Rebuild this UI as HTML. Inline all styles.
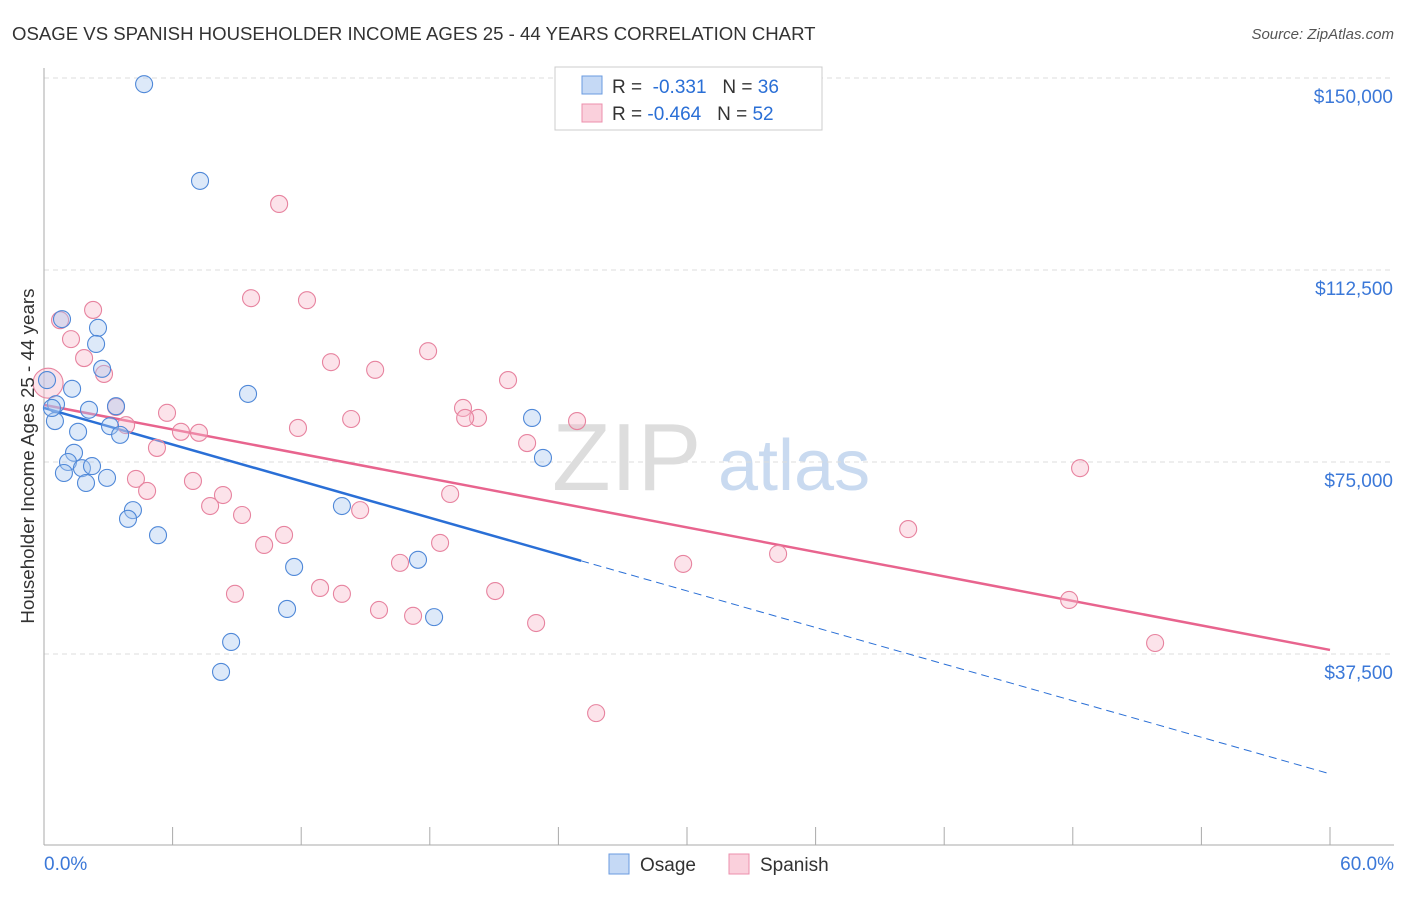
<!DOCTYPE html>
<html><head><meta charset="utf-8"><style>
body{margin:0;background:#fff;font-family:"Liberation Sans",sans-serif;}
svg text{font-family:"Liberation Sans",sans-serif;}
</style></head><body>
<svg id="chart" width="1406" height="892" xmlns="http://www.w3.org/2000/svg">
<text x="12" y="40" font-size="18.6" fill="#333">OSAGE VS SPANISH HOUSEHOLDER INCOME AGES 25 - 44 YEARS CORRELATION CHART</text>
<text x="1394" y="39" font-size="15" fill="#555" text-anchor="end" font-style="italic">Source: ZipAtlas.com</text>
<g>
<text x="552" y="490" font-size="96" fill="#ddd" font-family="Liberation Serif">ZIP</text>
<text x="718" y="490" font-size="72" fill="#c9daf0">atlas</text>
</g>
<g id="grid"></g><g id="axes"></g><g id="lines"></g><g id="pts"></g>
<text transform="translate(34,456) rotate(-90)" font-size="18.8" fill="#333" text-anchor="middle">Householder Income Ages 25 - 44 years</text>
<g>
<rect x="555" y="67" width="267" height="63" fill="#fff" stroke="#ccc"/>
<rect x="582" y="76" width="20" height="18" fill="#c5d9f5" stroke="#6a9be0"/>
<rect x="582" y="104" width="20" height="18" fill="#fad0dc" stroke="#ec8fac"/>
<text x="612" y="93" font-size="19" fill="#333">R = <tspan fill="#2a6fd6">&#160;-0.331</tspan>&#160;&#160;&#160;N = <tspan fill="#2a6fd6">36</tspan></text>
<text x="612" y="120" font-size="19" fill="#333">R = <tspan fill="#2a6fd6">-0.464</tspan>&#160;&#160;&#160;N = <tspan fill="#2a6fd6">52</tspan></text>
</g>
<g>
<rect x="609" y="854" width="20" height="20" fill="#c5d9f5" stroke="#6a9be0"/>
<text x="640" y="871" font-size="19" fill="#333">Osage</text>
<rect x="729" y="854" width="20" height="20" fill="#fad0dc" stroke="#ec8fac"/>
<text x="760" y="871" font-size="19" fill="#333">Spanish</text>
</g>
</svg>
<script>
const yTicks=[37500,75000,112500,150000];
const yTickLabels=["$37,500","$75,000","$112,500","$150,000"];
const xTickLabels=["0.0%","60.0%"];
const osageX=[4.67,7.28,0.84,2.52,2.43,2.71,0.14,1.31,9.52,0.56,2.10,3.36,0.51,3.08,3.55,1.59,22.77,1.40,1.12,23.28,1.77,2.24,0.93,2.94,1.96,13.90,4.15,3.92,5.32,17.45,11.67,11.34,18.20,8.73,8.26,0.37];
const osageY=[148800,129900,102900,101200,98050,93200,91000,89300,88300,86300,85200,85900,83000,82000,80300,80900,83600,76800,75000,75800,73800,74200,72850,71900,70900,66400,65600,63900,60700,55900,54500,46300,44700,39850,34000,85550];
const spanishX=[10.97,9.66,12.27,2.29,0.75,1.26,17.92,1.87,13.39,2.80,15.45,21.65,0.19,3.36,5.74,19.55,14.33,20.25,19.65,24.87,3.83,11.85,6.39,7.23,22.54,5.27,48.34,4.29,6.95,4.81,18.95,8.35,7.75,14.75,9.24,40.32,11.20,10.27,18.48,34.25,16.61,29.82,12.88,8.91,13.90,21.05,47.83,15.63,17.22,22.96,51.84,25.76];
const spanishY=[125400,107000,106600,104700,102700,99000,96650,95300,94500,92200,93000,91000,90400,85750,84600,85550,83400,83600,83600,83000,82200,81650,80900,80700,78700,77750,73800,71700,71300,69350,68750,68550,66400,65600,64650,61900,60750,58800,59200,57050,55300,55100,50400,49250,49250,49800,48050,46100,44950,43550,39650,25950];
const osageTrend=[85550,-1191];
const spanishTrend=[86150,-797.6];
const NS="http://www.w3.org/2000/svg";
const X=v=>44+v/60*1286, Y=v=>78+(150000-v)/37500*192;
function mk(t,a,p){const e=document.createElementNS(NS,t);for(const k in a)e.setAttribute(k,a[k]);document.getElementById(p).appendChild(e);return e;}
yTicks.forEach((t,i)=>{
 const g=mk('line',{x1:44,x2:1394,y1:Y(t),y2:Y(t),stroke:'#ddd','stroke-dasharray':'5,4'},'grid');
 
 
 const l=mk('text',{x:1393,y:Y(t)+25,'font-size':19,fill:'#3b78d8','text-anchor':'end'},'axes');
 l.textContent=yTickLabels[i];
 
 
});
mk('line',{x1:44,x2:44,y1:68,y2:845,stroke:'#aaa'},'axes');
mk('line',{x1:44,x2:1394,y1:845,y2:845,stroke:'#aaa'},'axes');
for(let i=1;i<=10;i++){const t=mk('line',{x1:X(i*6),x2:X(i*6),y1:827,y2:845,stroke:'#aaa'},'axes');}
const xl0=mk('text',{x:44,y:870,'font-size':19,fill:'#3b78d8'},'axes');xl0.textContent=xTickLabels[0];


const xl1=mk('text',{x:1394,y:870,'font-size':19,fill:'#3b78d8','text-anchor':'end'},'axes');xl1.textContent=xTickLabels[1];


function pts(xs,ys,fill,stroke,name){xs.forEach((x,i)=>{
 const r=(name==='spanish-point'&&i===12)?15:8.5;
 const c=mk('circle',{cx:X(x),cy:Y(ys[i]),r:r,fill:fill,'fill-opacity':0.4,stroke:stroke,'stroke-width':1.1},'pts');
 
 
});}
pts(spanishX,spanishY,'#f7b8cb','#e7839f','spanish-point');
pts(osageX,osageY,'#a9c8f0','#4f88d8','osage-point');
const f=(tr,x)=>tr[0]+tr[1]*x;
const b1=mk('line',{x1:X(0),y1:Y(f(osageTrend,0)),x2:X(25.06),y2:Y(f(osageTrend,25.06)),stroke:'#2a6fd6','stroke-width':2.5},'lines');


const b2=mk('line',{x1:X(25.06),y1:Y(f(osageTrend,25.06)),x2:X(60),y2:Y(f(osageTrend,60)),stroke:'#2a6fd6','stroke-width':1,'stroke-dasharray':'8,5'},'lines');


const p1=mk('line',{x1:X(0),y1:Y(f(spanishTrend,0)),x2:X(60),y2:Y(f(spanishTrend,60)),stroke:'#e8648e','stroke-width':2.5},'lines');


</script>
</body></html>
